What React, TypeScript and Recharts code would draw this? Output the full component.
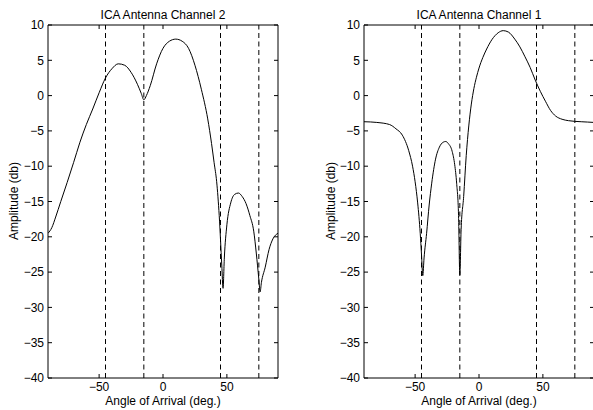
import React from 'react';
import { LineChart, Line, XAxis, YAxis, ReferenceLine } from 'recharts';

// Channel 2 (left panel)
const ch2Angles = [-90, -87, -84, -80, -75, -70, -65, -60, -55, -50, -45, -40, -35, -30, -25, -20, -17, -15, -13, -10, -5, 0, 5, 10, 15, 20, 25, 30, 35, 38, 40, 42, 44, 46, 47, 48, 50, 53, 56, 59, 62, 65, 68, 71, 73, 75, 76, 77, 80, 83, 86, 90];
const ch2Amps = [-19.5, -18.7, -17.2, -15.0, -12.3, -9.5, -6.6, -4.1, -1.9, 0.4, 2.5, 3.8, 4.5, 4.3, 3.3, 1.6, 0.3, -0.6, 0.0, 1.4, 4.5, 6.7, 7.7, 8.0, 7.7, 6.7, 4.3, 0.9, -3.3, -6.8, -9.5, -12.2, -17.0, -24.0, -27.3, -23.0, -18.3, -15.2, -14.0, -13.8, -14.3, -15.3, -17.0, -19.2, -22.3, -26.0, -27.8, -26.5, -24.3, -21.8, -20.3, -19.5];

// Channel 1 (right panel)
const ch1Angles = [-90, -80, -70, -65, -60, -55, -52, -50, -48, -46, -45, -44, -43, -41, -39, -37, -34, -31, -28, -26, -24, -21, -19, -17.5, -16, -15, -14, -12, -10, -8, -6, -4, -2, 0, 3, 6, 10, 15, 19, 23, 28, 32, 36, 40, 44, 48, 52, 56, 60, 65, 70, 75, 80, 85, 90];
const ch1Amps = [-3.7, -3.8, -4.1, -4.7, -5.6, -7.8, -10.0, -12.2, -15.2, -19.5, -22.5, -25.5, -23.0, -19.5, -15.5, -12.4, -9.0, -7.3, -6.6, -6.5, -6.8, -7.9, -9.8, -12.4, -17.0, -25.4, -19.0, -14.3, -8.5, -4.3, -1.2, 1.0, 2.6, 3.9, 5.4, 6.6, 7.9, 8.9, 9.2, 9.0, 8.0, 6.9, 5.5, 4.0, 2.2, 0.6, -0.8, -2.1, -2.9, -3.35, -3.55, -3.65, -3.7, -3.75, -3.8];

const xTicks = [-50, 0, 50];
const yTicks = [10, 5, 0, -5, -10, -15, -20, -25, -30, -35, -40];
const arrivalAngles = [-45, -15, 45, 75];

const titles = ['ICA Antenna Channel 2', 'ICA Antenna Channel 1'];
const xLabel = 'Angle of Arrival (deg.)';
const yLabel = 'Amplitude (db)';

const FONT = '"Liberation Sans", Arial, Helvetica, sans-serif';
const fmt = (v: number) => (v < 0 ? '\u2212' + Math.abs(v) : String(v));
const blank = () => '';
const tickStyle = { fontSize: 12, fill: '#000', fontFamily: FONT };

function Panel({ angles, amps }: { angles: number[]; amps: number[] }) {
  const data = angles.map((a, i) => ({ angle: a, amp: amps[i] }));
  return (
    <LineChart width={290} height={410} data={data} margin={{ top: 24, right: 11, bottom: 0, left: 0 }}>
      <XAxis
        xAxisId="b"
        dataKey="angle"
        type="number"
        domain={[-90, 90]}
        ticks={xTicks}
        interval={0}
        allowDataOverflow
        height={32}
        tickSize={-4}
        tickMargin={8.5}
        tickFormatter={fmt}
        tick={tickStyle}
        stroke="#000"
      />
      <XAxis
        xAxisId="t"
        orientation="top"
        dataKey="angle"
        type="number"
        domain={[-90, 90]}
        ticks={xTicks}
        interval={0}
        allowDataOverflow
        height={1}
        tickSize={-4}
        tickFormatter={blank}
        tick={tickStyle}
        stroke="#000"
      />
      <YAxis
        yAxisId="l"
        type="number"
        domain={[-40, 10]}
        ticks={yTicks}
        interval={0}
        allowDataOverflow
        width={48}
        tickSize={-4}
        tickMargin={8}
        tickFormatter={fmt}
        tick={tickStyle}
        stroke="#000"
      />
      <YAxis
        yAxisId="r"
        orientation="right"
        type="number"
        domain={[-40, 10]}
        ticks={yTicks}
        interval={0}
        allowDataOverflow
        width={1}
        tickSize={-4}
        tickFormatter={blank}
        tick={tickStyle}
        stroke="#000"
      />
      {arrivalAngles.map((a) => (
        <ReferenceLine key={a} x={a} xAxisId="b" yAxisId="l" stroke="#000" strokeWidth={1} strokeDasharray="5 3.5" />
      ))}
      <Line
        xAxisId="b"
        yAxisId="l"
        dataKey="amp"
        type="monotone"
        stroke="#000"
        strokeWidth={1}
        dot={false}
        activeDot={false}
        isAnimationActive={false}
      />
    </LineChart>
  );
}

export default function App() {
  return (
    <div style={{ position: 'absolute', left: 0, top: 0, width: 593, height: 410, overflow: 'hidden', background: '#fff' }}>
      <div style={{ position: 'absolute', left: 0, top: 0 }}>
        <Panel angles={ch2Angles} amps={ch2Amps} />
      </div>
      <div style={{ position: 'absolute', left: 316, top: 0 }}>
        <Panel angles={ch1Angles} amps={ch1Amps} />
      </div>
      <svg width={593} height={410} style={{ position: 'absolute', left: 0, top: 0, pointerEvents: 'none' }} fontFamily={FONT} fontSize={12} fill="#000">
        <text x={163} y={18.5} textAnchor="middle">{titles[0]}</text>
        <text x={479} y={18.5} textAnchor="middle">{titles[1]}</text>
        <text x={163} y={404.5} textAnchor="middle">{xLabel}</text>
        <text x={479} y={404.5} textAnchor="middle">{xLabel}</text>
        <text transform="translate(18,201) rotate(-90)" textAnchor="middle">{yLabel}</text>
        <text transform="translate(335,201) rotate(-90)" textAnchor="middle">{yLabel}</text>
      </svg>
    </div>
  );
}
